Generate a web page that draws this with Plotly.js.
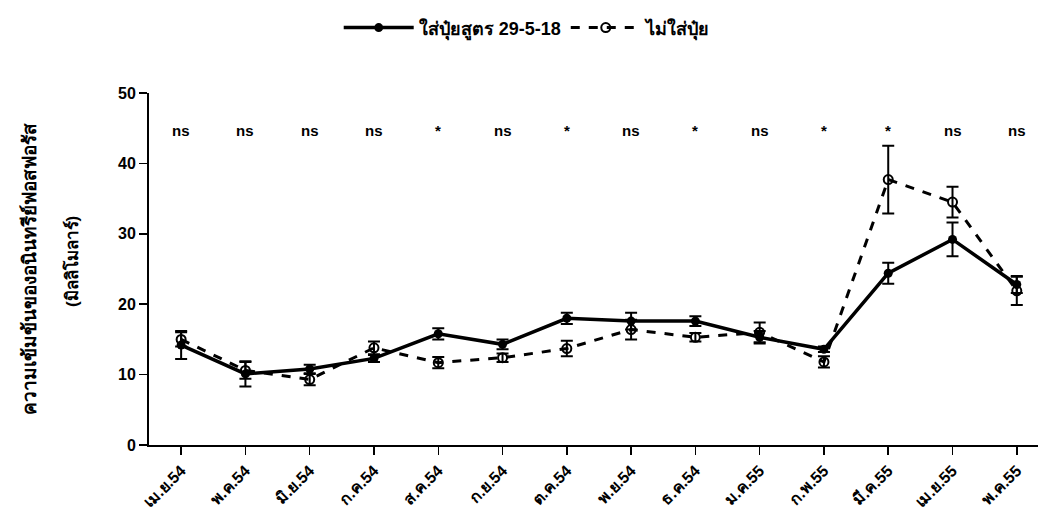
<!DOCTYPE html>
<html>
<head>
<meta charset="utf-8">
<script src="https://cdn.plot.ly/plotly-3.0.1.min.js"></script>
<style>html,body{margin:0;padding:0;background:#fff;}#chart{width:1038px;height:532px;}</style>
</head>
<body>
<div id="chart"></div>
<script>
const months = ["เม.ย.54","พ.ค.54","มิ.ย.54","ก.ค.54","ส.ค.54","ก.ย.54","ต.ค.54","พ.ย.54","ธ.ค.54","ม.ค.55","ก.พ.55","มี.ค.55","เม.ย.55","พ.ค.55"];
const fertName = "ใส่ปุ๋ยสูตร 29-5-18";
const fertVals = [14.2,10.1,10.8,12.3,15.8,14.3,18.0,17.6,17.6,15.3,13.6,24.4,29.2,22.8];
const fertErr  = [2.0,1.8,0.6,0.5,0.8,0.7,0.8,1.2,0.7,0.9,0.4,1.5,2.4,1.2];
const noName = "ไม่ใส่ปุ๋ย";
const noVals = [15.0,10.6,9.3,13.8,11.7,12.4,13.7,16.4,15.3,16.0,11.8,37.7,34.5,21.9];
const noErr  = [1.0,1.2,0.8,0.9,0.8,0.6,1.1,1.4,0.6,1.4,0.8,4.8,2.2,2.0];
const sig = ["ns","ns","ns","ns","*","ns","*","ns","*","ns","*","*","ns","ns"];
const sigY = 44.7;
const yTitle1 = "ความเข้มข้นของอนินทรีย์ฟอสฟอรัส";
const yTitle2 = "(มิลลิโมลาร์)";

const FONT = "Liberation Sans, Arial, DejaVu Sans, Noto Sans, sans-serif";

const traces = [
  {
    x: months, y: fertVals, name: fertName, type: "scatter", mode: "lines+markers",
    line: {color: "#000", width: 3.5, dash: "solid"},
    marker: {symbol: "circle", size: 9, color: "#000"},
    error_y: {type: "data", array: fertErr, visible: true, color: "#000", thickness: 2, width: 6}
  },
  {
    x: months, y: noVals, name: noName, type: "scatter", mode: "lines+markers",
    line: {color: "#000", width: 3, dash: "dash"},
    marker: {symbol: "circle-open", size: 9, color: "#000", line: {width: 2, color: "#000"}},
    error_y: {type: "data", array: noErr, visible: true, color: "#000", thickness: 2, width: 6}
  }
];

const annotations = months.map((m, i) => ({
  x: m, y: sigY, xref: "x", yref: "y", text: sig[i], showarrow: false,
  font: {family: FONT, size: 15, color: "#000", weight: "bold"}
}));
annotations.push({
  xref: "paper", yref: "paper", x: -0.149, y: 0.5, text: "<b>" + yTitle1 + "</b>",
  textangle: -90, showarrow: false, font: {family: FONT, size: 19, color: "#000"}
});
annotations.push({
  xref: "paper", yref: "paper", x: -0.1, y: 0.52, text: "<b>" + yTitle2 + "</b>",
  textangle: -90, showarrow: false, font: {family: FONT, size: 17, color: "#000"}
});

const layout = {
  width: 1038, height: 532,
  margin: {l: 149, r: 0, t: 93, b: 87},
  paper_bgcolor: "#fff", plot_bgcolor: "#fff",
  font: {family: FONT, color: "#000"},
  showlegend: true,
  legend: {
    orientation: "h", x: 0.426, xanchor: "center", y: 1.185, yanchor: "middle",
    font: {family: FONT, size: 18, color: "#000", weight: "bold"},
    itemwidth: 70, traceorder: "normal"
  },
  xaxis: {
    type: "category", range: [-0.5, 13.33],
    showline: true, linecolor: "#000", linewidth: 2,
    ticks: "outside", ticklen: 8, tickwidth: 1.5, tickcolor: "#000",
    tickangle: -45, showgrid: false, zeroline: false,
    tickfont: {family: FONT, size: 16, color: "#000", weight: "bold"}
  },
  yaxis: {
    range: [0, 50], dtick: 10,
    showline: true, linecolor: "#000", linewidth: 2,
    ticks: "outside", ticklen: 8, tickwidth: 1.5, tickcolor: "#000",
    showgrid: false, zeroline: false,
    tickfont: {family: FONT, size: 16, color: "#000", weight: "bold"}
  },
  annotations: annotations
};

Plotly.newPlot("chart", traces, layout, {displayModeBar: false, staticPlot: true});
</script>
</body>
</html>
